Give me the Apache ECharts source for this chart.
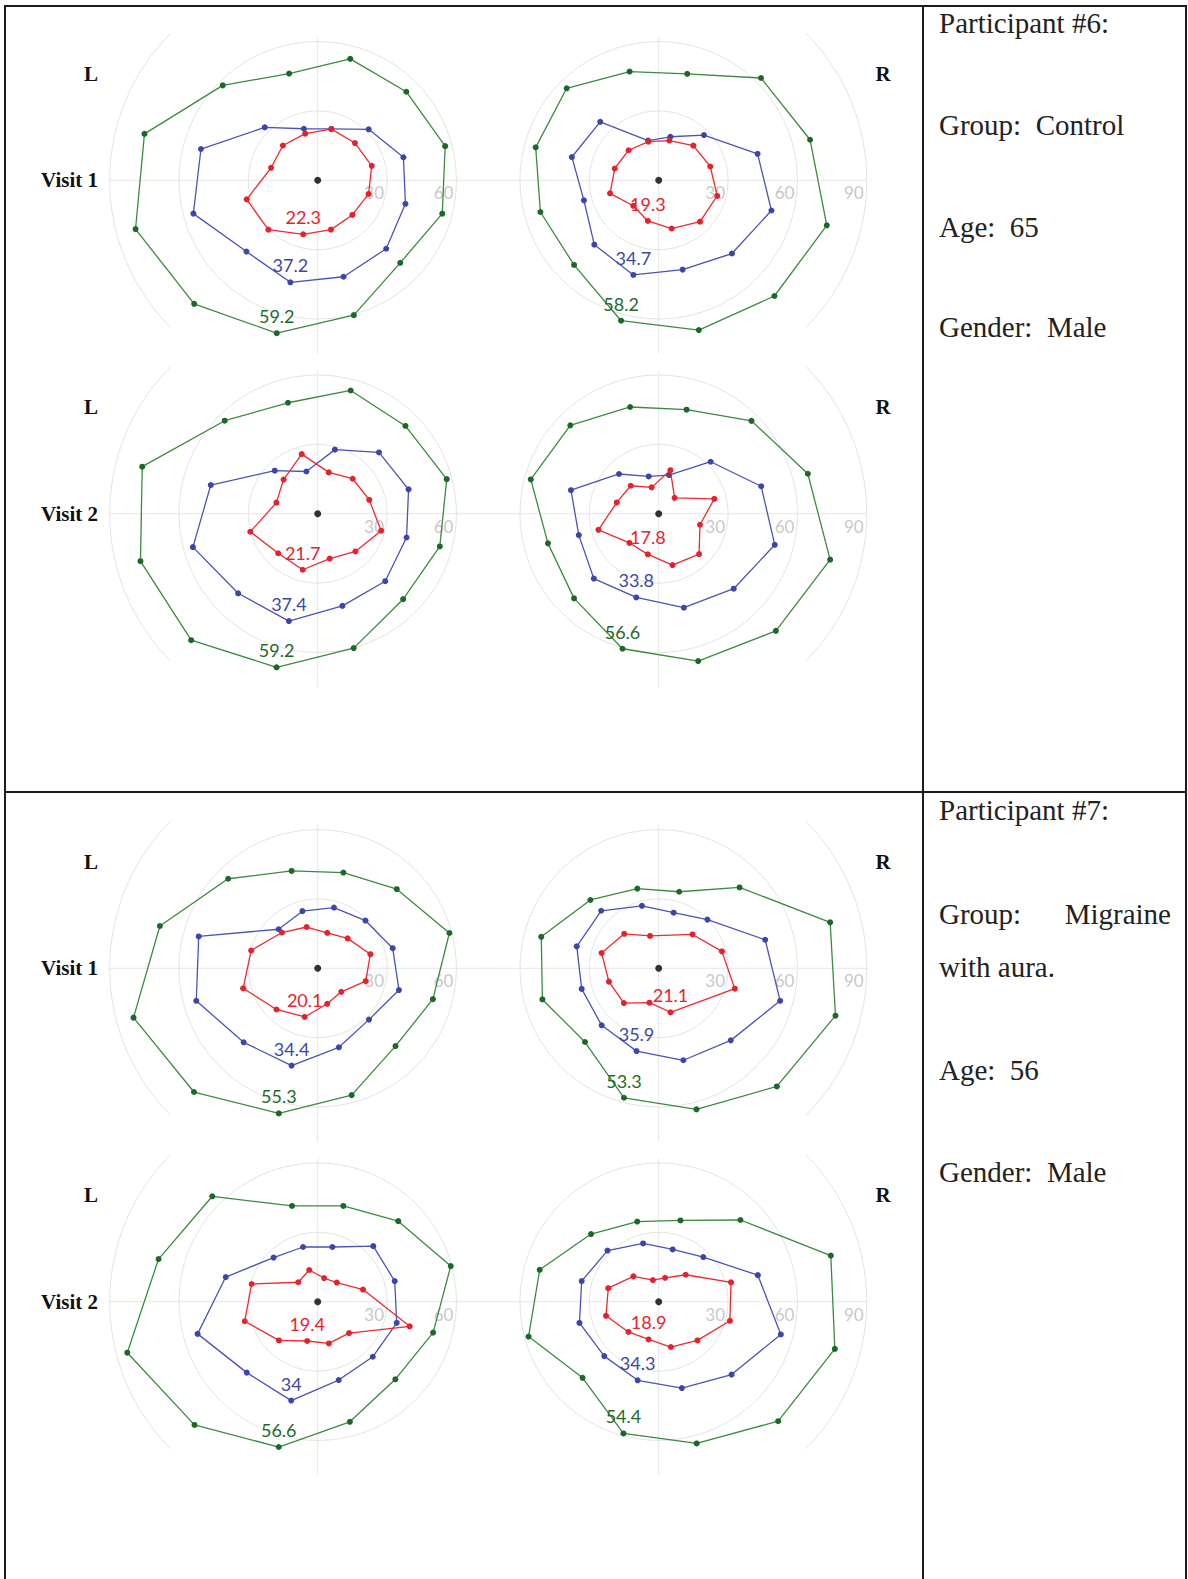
<!DOCTYPE html>
<html><head><meta charset="utf-8">
<script src="https://cdn.jsdelivr.net/npm/echarts@6/dist/echarts.min.js"></script>
<style>html,body{margin:0;padding:0;background:#fff}#c{width:1188px;height:1579px}</style>
</head><body><div id="c"></div>
<script>
// ---------- data ----------
const angleDeg = [15,45,75,105,135,165,195,225,255,285,315,345];
const ringTicks = [30,60,90];

// Participant 6 – Visit 1
const p6v1L_red   = [24.2,22.8,22.9,20.9,21.3,20.9,31.8,30.2,24.2,22.1,21.2,22.8];
const p6v1L_blue  = [38.4,31.2,23.0,23.1,32.4,52.3,55.7,43.6,45.7,43.2,41.9,39.3];
const p6v1L_green = [57.1,54.2,54.4,47.8,58.1,77.6,81.6,75.6,68.5,60.4,50.5,55.8];
const p6v1L_labels = [22.3, 37.2, 59.2];
const p6v1R_red   = [23.1,21.2,17.8,17.3,18.4,19.7,21.8,15.6,18.2,21.6,25.3,26.2];
const p6v1R_blue  = [44.3,27.7,19.5,17.8,35.8,38.9,33.5,39.4,42.4,40.0,44.8,50.5];
const p6v1R_green = [67.8,62.6,47.7,48.7,56.3,55.1,53.0,51.8,62.9,67.1,70.8,75.3];
const p6v1R_labels = [19.3, 34.7, 58.2];
// Participant 6 – Visit 2
const p6v2L_red   = [23.1,21.4,18.5,26.7,20.9,18.5,30.2,24.2,25.1,20.1,23.1,28.4];
const p6v2L_blue  = [40.7,37.5,28.7,18.9,26.3,47.9,55.9,48.7,48.1,41.3,41.3,39.8];
const p6v2L_green = [57.8,53.7,55.2,49.7,56.9,78.6,79.4,77.4,68.8,60.2,52.3,54.7];
const p6v2L_labels = [21.7, 37.4, 59.2];
const p6v2R_red   = [24.9,9.7,19.5,11.8,17.1,18.8,27.0,17.9,18.2,23.0,24.7,18.5];
const p6v2R_blue  = [45.9,31.8,17.3,16.7,24.3,39.3,35.8,39.7,37.5,42.1,45.9,52.0];
const p6v2R_green = [66.8,56.8,46.6,47.8,54.1,57.3,49.6,51.8,60.5,66.0,71.7,76.8];
const p6v2R_labels = [17.8, 33.8, 56.6];
// Participant 7 – Visit 1
const p7v1L_red   = [23.6,18.3,15.9,18.5,21.9,29.8,33.4,25.2,21.8,15.9,14.4,21.5];
const p7v1L_blue  = [33.6,29.2,27.2,25.6,23.9,53.3,54.4,45.3,43.6,35.4,31.4,36.4];
const p7v1L_green = [59.0,48.4,42.9,43.6,54.8,70.7,82.5,75.7,65.0,56.8,47.6,51.6];
const p7v1L_labels = [20.1, 34.4, 55.3];
const p7v1R_red   = [28.3,20.7,null,14.5,21.1,25.6,22.3,21.3,15.4,19.7,null,34.1];
const p7v1R_blue  = [47.7,29.8,24.9,28.0,35.2,36.7,34.5,34.9,37.1,41.2,44.1,54.4];
const p7v1R_green = [76.8,49.5,34.3,35.7,41.8,52.6,52.1,45.1,58.0,63.2,72.3,79.2];
const p7v1R_labels = [21.1, 35.9, 53.3];
// Participant 7 – Visit 2
const p7v2L_red   = [20.3,11.7,10.6,14.2,11.9,29.6,32.7,23.7,17.6,18.7,19.2,41.2];
const p7v2L_blue  = [34.5,34.0,24.5,24.5,27.0,41.2,53.8,43.4,44.3,35.1,33.7,35.4];
const p7v2L_green = [59.6,49.3,42.9,42.9,64.5,71.3,85.3,75.4,65.1,53.8,47.5,51.7];
const p7v2L_labels = [19.4, 34, 56.6];
const p7v2R_red   = [32.4,16.5,10.7,9.7,15.5,22.6,23.6,18.5,16.9,20.3,23.7,31.9];
const p7v2R_blue  = [44.4,27.3,23.4,26.1,31.3,34.5,35.5,33.3,35.2,38.7,44.6,54.7];
const p7v2R_green = [77.1,50.0,36.4,35.9,41.4,53.3,58.3,46.6,59.0,63.5,73.1,78.9];
const p7v2R_labels = [18.9, 34.3, 54.4];

// grid decoration extents (degrees)
const outerArcL = [135, 225];
const outerArcR = [-45, 45];
const crossL = [[74,0],[62,90],[90,180],[75,270]];
const crossR = [[90,0],[62,90],[74,180],[75,270]];

// participant info text
const p6Info = ['Participant #6:', 'Group:\u00a0\u00a0Control', 'Age:\u00a0\u00a065', 'Gender:\u00a0\u00a0Male'];
const p7Info = ['Participant #7:', 'Group:', 'Migraine', 'with aura.', 'Age:\u00a0\u00a056', 'Gender:\u00a0\u00a0Male'];

// ---------- layout / style ----------
const XL = 317.7, XR = 658.7;
const ROWS = [180.3, 513.7, 968.3, 1301.7];
const R90 = 208;
const COL = {
  red:   {line:'#ee2a2e', dot:'#e8202a', lab:'#e8232a'},
  blue:  {line:'#4a53b6', dot:'#3b46aa', lab:'#3d48a4'},
  green: {line:'#3b8a3e', dot:'#1b6828', lab:'#1f6a2b'}
};
const plots = [
  {eye:'L', row:0, red:p6v1L_red, blue:p6v1L_blue, green:p6v1L_green, labels:p6v1L_labels},
  {eye:'R', row:0, red:p6v1R_red, blue:p6v1R_blue, green:p6v1R_green, labels:p6v1R_labels},
  {eye:'L', row:1, red:p6v2L_red, blue:p6v2L_blue, green:p6v2L_green, labels:p6v2L_labels},
  {eye:'R', row:1, red:p6v2R_red, blue:p6v2R_blue, green:p6v2R_green, labels:p6v2R_labels},
  {eye:'L', row:2, red:p7v1L_red, blue:p7v1L_blue, green:p7v1L_green, labels:p7v1L_labels},
  {eye:'R', row:2, red:p7v1R_red, blue:p7v1R_blue, green:p7v1R_green, labels:p7v1R_labels},
  {eye:'L', row:3, red:p7v2L_red, blue:p7v2L_blue, green:p7v2L_green, labels:p7v2L_labels},
  {eye:'R', row:3, red:p7v2R_red, blue:p7v2R_blue, green:p7v2R_green, labels:p7v2R_labels}
];

const polar = [], angleAxis = [], radiusAxis = [], series = [];
plots.forEach((p, i) => {
  const isL = p.eye === 'L';
  polar.push({center:[isL ? XL : XR, ROWS[p.row]], radius: R90});
  angleAxis.push({polarIndex:i, type:'value', min:0, max:360, startAngle:0, clockwise:false,
    axisLine:{show:false}, axisTick:{show:false}, axisLabel:{show:false}, splitLine:{show:false}});
  radiusAxis.push({polarIndex:i, type:'value', min:0, max:90, interval:30,
    axisLine:{show:false}, axisTick:{show:false}, splitLine:{show:false},
    axisLabel:{show:true, margin:-4, align:'right', verticalAlign:'top', padding:[0,3,0,0],
      color:'#c8c8c8', fontFamily:'Lato', fontSize:17,
      formatter: v => (v === 0 || (isL && v === 90)) ? '' : String(v)}});
  // rings
  const ringData = ringTicks.map(t => t === 90 ? [t].concat(isL ? outerArcL : outerArcR) : [t, 0, 360]);
  series.push({type:'custom', coordinateSystem:'polar', polarIndex:i, silent:true, z:1,
    encode:{radius:0, angle:1},
    data: ringData,
    renderItem: (params, api) => {
      const r = api.value(0), a0 = api.value(1), a1 = api.value(2);
      const pts = [];
      for (let a = a0; a <= a1 + 0.001; a += 2) pts.push(api.coord([r, a]));
      return {type:'polyline', shape:{points:pts}, style:{stroke:'#e3e3e3', lineWidth:1, fill:null}};
    }});
  // cross hair axes
  series.push({type:'custom', coordinateSystem:'polar', polarIndex:i, silent:true, z:1,
    encode:{radius:0, angle:1},
    data: isL ? crossL : crossR,
    renderItem: (params, api) => {
      const c0 = api.coord([0, api.value(1)]), c1 = api.coord([api.value(0), api.value(1)]);
      return {type:'line', shape:{x1:c0[0], y1:c0[1], x2:c1[0], y2:c1[1]}, style:{stroke:'#e6e6e6', lineWidth:1}};
    }});
  // isopters
  [['green', p.green, p.labels[2]], ['blue', p.blue, p.labels[1]], ['red', p.red, p.labels[0]]].forEach(([name, vals, lab], k) => {
    const pts = [];
    angleDeg.forEach((a, j) => { if (vals[j] != null) pts.push([vals[j], a]); });
    const data = pts.map((pt, j) => j === 8 ? {value: pt, label:{show:true, formatter: String(lab)}} : pt);
    data.push({value: pts[0], symbol:'none'});
    series.push({type:'line', coordinateSystem:'polar', polarIndex:i, z:3 + k,
      data, symbol:'circle', symbolSize:6, showSymbol:true, smooth:false,
      lineStyle:{color:COL[name].line, width:1.3},
      itemStyle:{color:COL[name].dot},
      label:{show:false, position:'top', distance:5, color:COL[name].lab, fontFamily:'Lato', fontSize:18},
      emphasis:{disabled:true}});
  });
  // fixation point
  series.push({type:'scatter', coordinateSystem:'polar', polarIndex:i, z:10, data:[[0,0]],
    symbol:'circle', symbolSize:7, itemStyle:{color:'#000'}, emphasis:{disabled:true}});
});

// ---------- texts & table ----------
const graphic = [];
const lineC = '#1c1c1c';
function hline(x1, x2, y, w) { graphic.push({type:'line', shape:{x1, y1:y, x2, y2:y}, style:{stroke:lineC, lineWidth:w||2}}); }
function vline(x, y1, y2, w) { graphic.push({type:'line', shape:{x1:x, y1, x2:x, y2}, style:{stroke:lineC, lineWidth:w||2}}); }
hline(4, 1187, 6);
hline(4, 1187, 792);
vline(5, 5, 1579);
vline(923, 5, 1579);
vline(1186, 5, 1579);

function txt(text, x, y, opts) {
  graphic.push({type:'text', x, y, style:Object.assign({text, fill:'#111', textVerticalAlign:'middle'}, opts)});
}
const boldF = 'bold 21px "Liberation Serif"';
ROWS.forEach((cy, r) => {
  txt('L', 91, cy - 106.5, {font:boldF, textAlign:'center'});
  txt('R', 883, cy - 106.5, {font:boldF, textAlign:'center'});
  txt('Visit ' + (r % 2 + 1), 98, cy, {font:boldF, textAlign:'right'});
});
const infoF = '29px "Liberation Serif"';
const infoX = 939;
[33.3, 135, 236.7, 336.7].forEach((b, k) => txt(p6Info[k], infoX, b - 10, {font:infoF, textAlign:'left', fill:'#222'}));
txt(p7Info[0], infoX, 820.3 - 10, {font:infoF, textAlign:'left', fill:'#222'});
txt(p7Info[1], infoX, 923.7 - 10, {font:infoF, textAlign:'left', fill:'#222'});
txt(p7Info[2], 1171, 923.7 - 10, {font:infoF, textAlign:'right', fill:'#222'});
txt(p7Info[3], infoX, 977 - 10, {font:infoF, textAlign:'left', fill:'#222'});
txt(p7Info[4], infoX, 1080.3 - 10, {font:infoF, textAlign:'left', fill:'#222'});
txt(p7Info[5], infoX, 1182 - 10, {font:infoF, textAlign:'left', fill:'#222'});

const chart = echarts.init(document.getElementById('c'), null, {renderer:'svg'});
chart.setOption({animation:false, backgroundColor:'#fff', polar, angleAxis, radiusAxis, series, graphic});
</script></body></html>
